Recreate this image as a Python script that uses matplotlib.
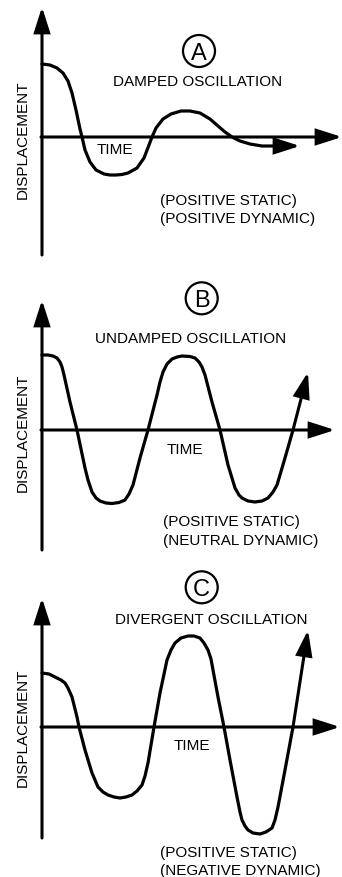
import matplotlib
matplotlib.use('Agg')
import matplotlib.pyplot as plt
from matplotlib.patches import Circle

plt.rcParams['font.family'] = 'Liberation Sans'
plt.rcParams['font.size'] = 11

# Schematic curves (time, displacement), last point = arrow tip
damped_t = [0, 8, 15, 21, 26, 30, 34, 38, 40, 43, 48, 54, 62, 68, 74, 80, 86, 95, 102, 107, 110,
            114, 121, 129, 139, 148, 158, 168, 176, 183, 190, 198, 208, 220, 235, 258]
damped_d = [73, 72, 69, 64, 56, 44, 27, 8, 0, -13, -25, -33, -37, -38, -38, -37.5, -36, -31, -21, -8, 0,
            9, 18, 23, 26, 26, 24, 18, 11, 5, 0, -4, -7, -9, -9, -9]

undamped_t = [0, 6, 11, 15, 18, 20, 22, 28, 35, 43, 46, 50, 54, 58, 64, 70, 77, 83, 87, 91,
              98, 106, 115, 118, 121, 125, 130, 135, 140, 148, 153, 157, 160, 163, 170, 178,
              186, 190, 193, 197, 200, 206, 213, 220, 226, 231, 235, 243, 251, 266]
undamped_d = [75, 75, 74, 72, 68, 63, 55, 28, 0, -38, -50, -62, -68, -71, -73, -73.5, -72.5,
              -70, -64, -55, -28, 0, 35, 48, 58, 66, 71, 73, 74, 73.5, 72, 68, 63, 55, 28, 0,
              -35, -48, -58, -65, -68, -71, -72, -71, -68, -62, -55, -28, 0, 58]

divergent_t = [0, 7, 13, 19, 23, 26, 30, 35, 37, 43, 50, 56, 61, 66, 72, 78, 84, 90, 95, 100,
               103, 106, 112, 118, 125, 129, 133, 139, 146, 152, 158, 162, 166, 169, 171, 176,
               182, 188, 195, 198, 200, 203, 206, 211, 218, 224, 230, 233, 236, 243, 251, 266]
divergent_d = [54, 53, 50, 47, 44, 39, 30, 10, 0, -23, -46, -60, -65, -68, -70, -71, -70, -68,
               -64, -58, -49, -36, 0, 34, 67, 77, 84, 89, 91, 91, 89, 84, 77, 68, 57, 30, 0,
               -33, -70, -85, -93, -99, -103, -106, -107, -105, -101, -93, -80, -43, 0, 97]

panel_letters = ['A', 'B', 'C']
titles = ['DAMPED OSCILLATION', 'UNDAMPED OSCILLATION', 'DIVERGENT OSCILLATION']
static_labels = ['(POSITIVE STATIC)', '(POSITIVE STATIC)', '(POSITIVE STATIC)']
dynamic_labels = ['(POSITIVE DYNAMIC)', '(NEUTRAL DYNAMIC)', '(NEGATIVE DYNAMIC)']
curves = [(damped_t, damped_d), (undamped_t, undamped_d), (divergent_t, divergent_d)]

W, H = 342, 877
fig = plt.figure(figsize=(W / 100, H / 100), dpi=100)
fig.patch.set_facecolor('white')

# band (top px, bottom px, axis px) for each panel
bands = [(0, 290, 137), (290, 580, 430), (580, 877, 727)]
x0 = 42

# layout per panel: axis lengths, letter circle, text anchors
yaxis_ends = [(-118, 130), (-120, 130), (-111, 129)]
xaxis_tips = [300, 293, 298]
circle_pos = [(157, 86), (159.7, 131.7), (159.7, 139.7)]
title_pos = [(156, 51), (149, 87), (169, 102.5)]
time_pos = [(73, -17), (143, -24.5), (149.5, -23.5)]
note_pos = [(118, -68.5, -86), (121, -96, -115), (118, -130.5, -147.5)]
disp_pos = [(-19.5, -3), (-19.5, -3), (-19.5, -1)]

arrow_kw = dict(arrowstyle='-|>,head_length=0.75,head_width=0.24', mutation_scale=20,
                lw=2.2, color='black', shrinkA=0, shrinkB=0, joinstyle='miter')

for i, (top, bot, axy) in enumerate(bands):
    ax = fig.add_axes([0, (H - bot) / H, 1, (bot - top) / H])
    ax.set_xlim(-x0, W - x0)
    ax.set_ylim(axy - bot, axy - top)
    ax.axis('off')

    # axes with arrows
    yb, yt = yaxis_ends[i]
    ax.annotate('', xy=(0, yt), xytext=(0, yb), arrowprops=arrow_kw, annotation_clip=False)
    ax.annotate('', xy=(xaxis_tips[i], 0), xytext=(-1, 0), arrowprops=arrow_kw,
                annotation_clip=False)

    # response curve
    t, d = curves[i]
    ax.plot(t[:-1], d[:-1], color='black', lw=2.3, solid_joinstyle='round',
            solid_capstyle='round', clip_on=False)
    ax.annotate('', xy=(t[-1], d[-1]), xytext=(t[-2], d[-2]), arrowprops=arrow_kw,
                annotation_clip=False)

    # circled letter
    cx, cy = circle_pos[i]
    ax.add_patch(Circle((cx, cy), 16, fill=False, lw=1.6, ec='black', clip_on=False))
    ax.text(cx, cy, panel_letters[i], ha='center', va='center_baseline', fontsize=17)

    tx, ty = title_pos[i]
    ax.text(tx, ty, titles[i], ha='center', va='baseline')
    tx, ty = time_pos[i]
    ax.text(tx, ty, 'TIME', ha='center', va='baseline')
    nx, n1, n2 = note_pos[i]
    ax.text(nx, n1, static_labels[i], ha='left', va='baseline')
    ax.text(nx, n2, dynamic_labels[i], ha='left', va='baseline')
    dx, dy = disp_pos[i]
    ax.text(dx, dy, 'DISPLACEMENT', rotation=90, ha='center', va='center')

fig.savefig('out.png', dpi=100, facecolor='white')
